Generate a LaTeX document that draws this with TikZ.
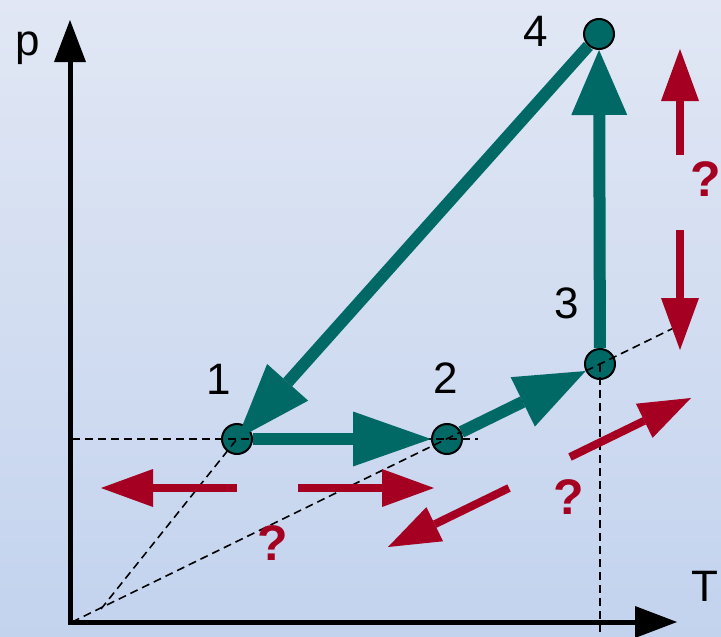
\documentclass[tikz,border=0pt]{standalone}
\usepackage{fontspec}
\setmainfont{Liberation Sans}
\usetikzlibrary{arrows.meta}
\definecolor{teal1}{HTML}{006966}
\definecolor{red1}{HTML}{A50021}
\definecolor{bgtop}{HTML}{E1E7F4}
\definecolor{bgbot}{HTML}{C3D3EE}
\begin{document}
\begin{tikzpicture}[x=1pt,y=-1pt,
  pt/.style={circle,fill=teal1,draw=black,line width=2pt,minimum size=30pt,inner sep=0pt},
  lbl/.style={font=\fontsize{44}{50}\selectfont,inner sep=0pt},
  qm/.style={font=\fontsize{50}{56}\selectfont\bfseries,text=red1,inner sep=0pt},
  cyc/.style={draw=teal1,line width=12pt},
  hint/.style={draw=red1,line width=8pt,-{Triangle[length=52pt,width=38pt,line width=0pt]}},
  guide/.style={draw=black,line width=1.6pt,dash pattern=on 8pt off 5pt},
  axis/.style={draw=black,line width=5pt,-{Triangle[length=42pt,width=32pt,line width=0pt]}}]
\useasboundingbox (0,0) rectangle (721,637);
\shade[top color=bgtop,bottom color=bgbot] (0,0) rectangle (721,637);
% axes
\coordinate (O) at (70,624);
\coordinate (ytip) at (70,20);
\coordinate (xtip) at (677,622);
\draw[axis] (70,624) -- (ytip);
\draw[axis] (68,622) -- (xtip);
% state points
\node[pt] (n1) at (237,439) {};
\node[pt] (n2) at (447,439) {};
\node[pt] (n3) at (600,364) {};
\node[pt] (n4) at (599,34) {};
% guide lines
\coordinate (g0) at (72,622);
\coordinate (gsplit) at (101,609);
\coordinate (gend) at (690,320);
\coordinate (h0) at (72,439);
\coordinate (h1) at (478,439);
\coordinate (v1) at (600,640);
\draw[guide] (g0) -- (gend);
\draw[guide] (gsplit) -- (n1.center);
\draw[guide] (h0) -- (h1);
\draw[guide] (n3.center) -- (v1);
% cycle
\draw[cyc,-{Triangle[length=76pt,width=55pt,line width=0pt]}] (n4) -- (n1.center);
\draw[cyc,-{Triangle[length=78pt,width=55pt,line width=0pt]}] (n1) -- (n2);
\draw[cyc,-{Triangle[length=70pt,width=55pt,line width=0pt]}] (n2) -- (n3);
\draw[cyc,-{Triangle[length=65pt,width=56pt,line width=0pt]}] (n3) -- (n4);
% red hints
\coordinate (r1a) at (237,488); \coordinate (r1b) at (101,488);
\coordinate (r2a) at (298,488); \coordinate (r2b) at (434,488);
\coordinate (r3a) at (509,488); \coordinate (r3b) at (388,547);
\coordinate (r4a) at (570,457); \coordinate (r4b) at (691,398);
\coordinate (r5a) at (680,155); \coordinate (r5b) at (680,49);
\coordinate (r6a) at (680,230); \coordinate (r6b) at (680,350);
\draw[hint] (r1a) -- (r1b);
\draw[hint] (r2a) -- (r2b);
\draw[hint] (r3a) -- (r3b);
\draw[hint] (r4a) -- (r4b);
\draw[hint] (r5a) -- (r5b);
\draw[hint] (r6a) -- (r6b);
\node[qm] (q1) at (706,179) {?};
\node[qm] (q2) at (569,497) {?};
\node[qm] (q3) at (273,543) {?};
% labels
\node[lbl] (l1) at (219,379) {1};
\node[lbl] (l2) at (446,378) {2};
\node[lbl] (l3) at (567,303) {3};
\node[lbl] (l4) at (536,31) {4};
\node[lbl] (lp) at (28,48) {p};
\node[lbl] (lT) at (705,586) {T};
\end{tikzpicture}
\end{document}
